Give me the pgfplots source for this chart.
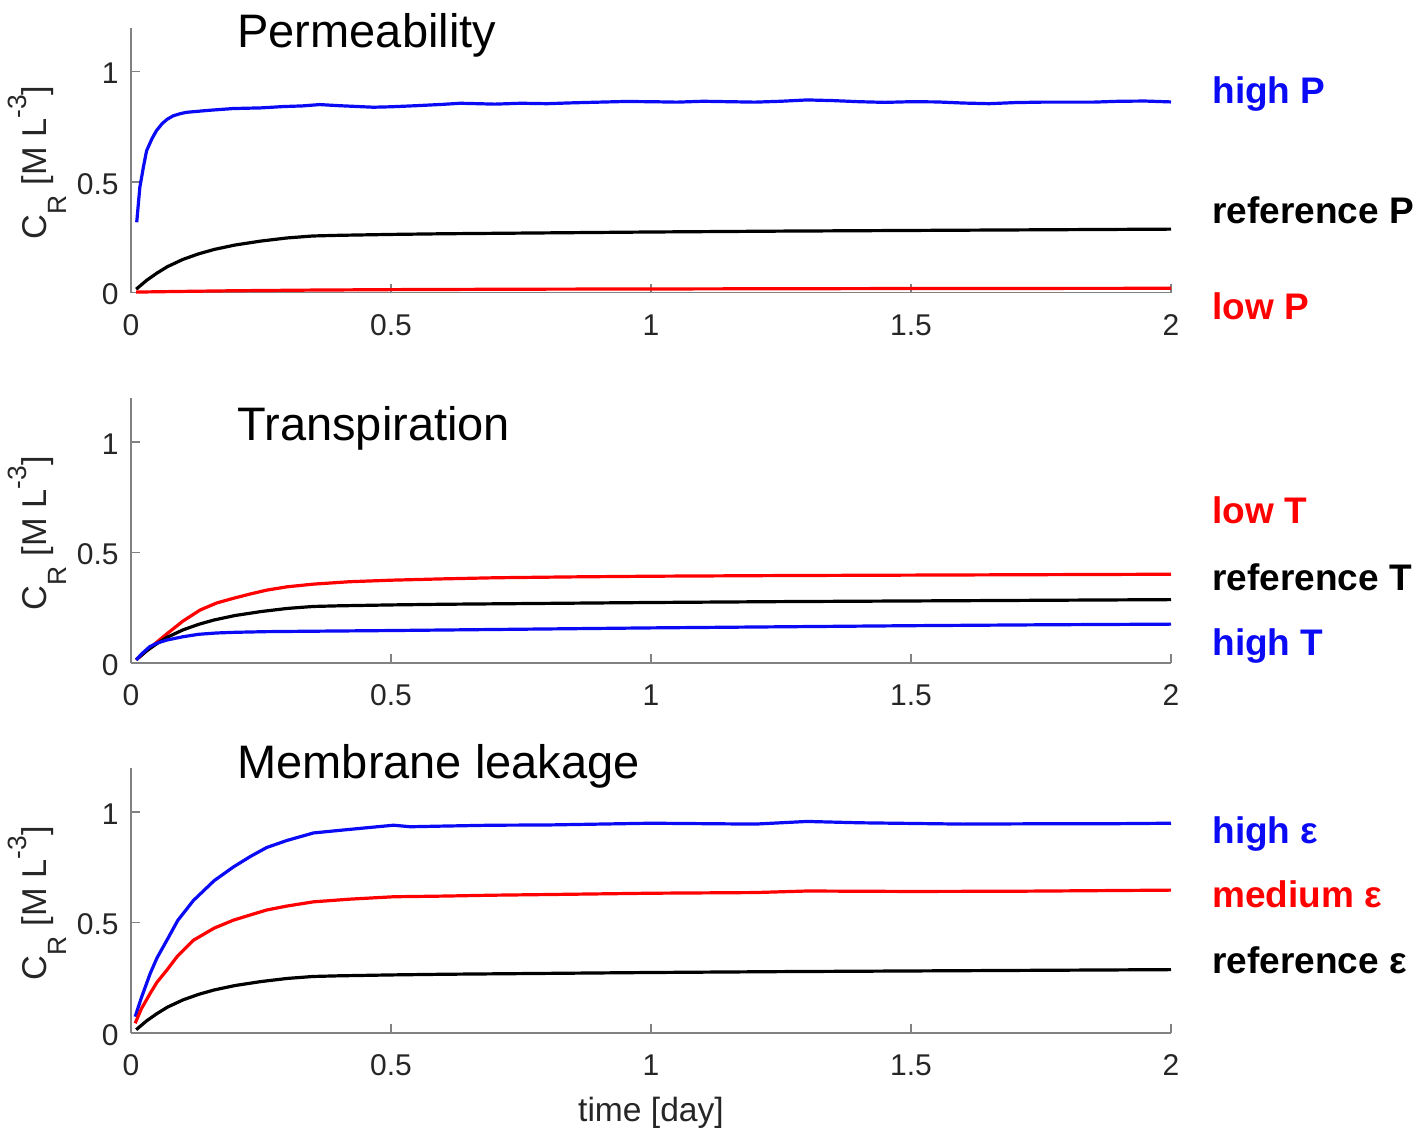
\documentclass[border=0pt]{standalone}
\usepackage{fontspec}
\setmainfont{Liberation Sans}
\usepackage{pgfplots}
\pgfplotsset{compat=1.18}

\definecolor{axgray}{RGB}{130,130,130}
\definecolor{ticklab}{RGB}{38,38,38}
\definecolor{cblue}{RGB}{10,10,245}
\definecolor{cred}{RGB}{255,0,0}

% concentration label with TeX-style sub/superscripts
\newcommand{\crlabel}{C\raisebox{-0.6em}{\fontsize{13.2}{14}\selectfont R}\hspace{0.3em}[M L\raisebox{0.57em}{\fontsize{13.2}{14}\selectfont -3}]}

% shared look of the three panels
\pgfplotsset{
  panel/.style={
    scale only axis, width=520pt, height=132.5pt,
    anchor=south west,
    xmin=0, xmax=2, ymin=0, ymax=1.2,
    xtick={0,0.5,1,1.5,2}, ytick={0,0.5,1},
    axis x line*=bottom, axis y line*=left,
    axis line style={draw=axgray, line width=0.8pt},
    tick style={draw=axgray, line width=0.8pt},
    tick align=inside, major tick length=4.5pt,
    /pgf/number format/assume math mode=true,
    tick label style={font=\fontsize{15}{18}\selectfont, text=ticklab, inner sep=0pt},
    xticklabel style={anchor=north, yshift=-10.75pt},
    yticklabel style={anchor=east, xshift=-6pt, yshift=-1pt},
    ylabel={\crlabel},
    ylabel style={font=\fontsize{17.2}{20}\selectfont, text=ticklab,
      at={(axis description cs:-0.0815,0.49)}, anchor=base, inner sep=0pt},
    clip=false,
    every axis plot/.append style={line width=1.6pt, no marks},
  },
}
\tikzset{
  ptitle/.style={anchor=base west, inner sep=0pt, font=\fontsize{23.5}{28}\selectfont},
  clabel/.style={anchor=base west, inner sep=0pt, font=\fontsize{18.5}{22}\selectfont\bfseries},
}

\begin{document}
\begin{tikzpicture}

% reference run, common to all panels
\pgfplotstableread{
t c
0.01 0.015
0.03 0.055
0.05 0.088
0.07 0.117
0.10 0.150
0.13 0.175
0.16 0.195
0.20 0.215
0.25 0.233
0.30 0.247
0.35 0.256
0.40 0.259
0.50 0.263
0.60 0.266
0.75 0.269
1.00 0.274
1.25 0.278
1.50 0.281
1.75 0.284
2.00 0.287
}\reftab

% ---------------- Permeability ----------------
\begin{axis}[panel, name=p1, at={(0,0)}]
\addplot[cblue] coordinates {
(0.011,0.318) (0.017,0.476) (0.024,0.57) (0.030,0.642) (0.040,0.695)
(0.049,0.733) (0.060,0.765) (0.070,0.785) (0.081,0.800) (0.095,0.810)
(0.107,0.816) (0.15,0.825) (0.196,0.833) (0.25,0.836) (0.293,0.842)
(0.33,0.845) (0.363,0.851) (0.40,0.846) (0.466,0.839) (0.50,0.841)
(0.549,0.846) (0.60,0.852) (0.633,0.857) (0.70,0.853) (0.75,0.857)
(0.80,0.855) (0.85,0.859) (0.90,0.862) (0.95,0.865) (1.00,0.864)
(1.05,0.862) (1.10,0.866) (1.15,0.864) (1.20,0.862) (1.25,0.866)
(1.30,0.872) (1.35,0.869) (1.40,0.864) (1.45,0.861) (1.50,0.864)
(1.55,0.863) (1.60,0.858) (1.65,0.855) (1.70,0.860) (1.75,0.862)
(1.80,0.862) (1.85,0.862) (1.90,0.866) (1.95,0.867) (2.00,0.863)};
\addplot[black] table[x=t,y=c] {\reftab};
\addplot[cred] coordinates {
(0.01,0.002) (0.1,0.005) (0.2,0.008) (0.35,0.011) (0.5,0.013)
(0.75,0.015) (1,0.016) (1.5,0.018) (2,0.019)};
\node[ptitle] at (axis cs:0.204,1.111) {Permeability};
\node[clabel, text=cblue] at (axis cs:2.079,0.857) {high P};
\node[clabel, text=black] at (axis cs:2.079,0.313) {reference P};
\node[clabel, text=cred] at (axis cs:2.079,-0.12) {low P};
\end{axis}

% ---------------- Transpiration ----------------
\begin{axis}[panel, name=p2, at={(0,-185.25pt)}]
\addplot[cred] coordinates {
(0.01,0.014) (0.03,0.055) (0.05,0.095) (0.07,0.134) (0.10,0.19)
(0.133,0.24) (0.165,0.272) (0.197,0.293) (0.23,0.313) (0.261,0.33)
(0.30,0.345) (0.35,0.357) (0.42,0.368) (0.5,0.375) (0.6,0.381)
(0.7,0.386) (0.85,0.39) (1.0,0.393) (1.25,0.396) (1.5,0.398)
(1.75,0.400) (2.0,0.402)};
\addplot[black] table[x=t,y=c] {\reftab};
\addplot[cblue] coordinates {
(0.01,0.014) (0.02,0.04) (0.036,0.074) (0.05,0.09) (0.069,0.104)
(0.1,0.119) (0.13,0.13) (0.165,0.136) (0.2,0.139) (0.26,0.142)
(0.35,0.144) (0.5,0.147) (0.75,0.153) (1.0,0.159) (1.25,0.164)
(1.5,0.169) (1.75,0.173) (2.0,0.176)};
\node[ptitle] at (axis cs:0.204,1.009) {Transpiration};
\node[clabel, text=cred] at (axis cs:2.079,0.633) {low T};
\node[clabel, text=black] at (axis cs:2.079,0.330) {reference T};
\node[clabel, text=cblue] at (axis cs:2.079,0.036) {high T};
\end{axis}

% ---------------- Membrane leakage ----------------
\begin{axis}[panel, name=p3, at={(0,-370.25pt)},
  xlabel={time [day]},
  xlabel style={font=\fontsize{16.8}{19}\selectfont, text=ticklab,
    at={(axis description cs:0.5,0)}, anchor=base, yshift=-44pt, inner sep=0pt}]
\addplot[cblue] coordinates {
(0.008,0.074) (0.02,0.16) (0.037,0.27) (0.05,0.34) (0.069,0.42)
(0.09,0.51) (0.12,0.60) (0.16,0.69) (0.197,0.752) (0.23,0.80)
(0.261,0.84) (0.30,0.872) (0.351,0.906) (0.42,0.922) (0.505,0.941)
(0.537,0.934) (0.6,0.937) (0.694,0.941) (0.8,0.942) (0.9,0.946)
(1.0,0.95) (1.1,0.948) (1.2,0.946) (1.3,0.958) (1.4,0.952)
(1.5,0.949) (1.6,0.946) (1.7,0.947) (1.8,0.948) (1.9,0.948) (2.0,0.950)};
\addplot[cred] coordinates {
(0.008,0.044) (0.02,0.11) (0.037,0.18) (0.05,0.23) (0.069,0.285)
(0.09,0.35) (0.12,0.42) (0.16,0.475) (0.197,0.511) (0.23,0.535)
(0.261,0.557) (0.30,0.575) (0.351,0.594) (0.42,0.606) (0.505,0.617)
(0.6,0.620) (0.694,0.624) (0.8,0.627) (1.0,0.633) (1.2,0.636)
(1.3,0.643) (1.5,0.641) (1.7,0.642) (2.0,0.647)};
\addplot[black] table[x=t,y=c] {\reftab};
\node[ptitle] at (axis cs:0.204,1.154) {Membrane leakage};
\node[clabel, text=cblue] at (axis cs:2.079,0.860) {high ε};
\node[clabel, text=cred] at (axis cs:2.079,0.567) {medium ε};
\node[clabel, text=black] at (axis cs:2.079,0.271) {reference ε};
\end{axis}

\pgfresetboundingbox
\path[use as bounding box] (-65.5pt,146.25pt) rectangle (647.5pt,-419.25pt);
\end{tikzpicture}
\end{document}
